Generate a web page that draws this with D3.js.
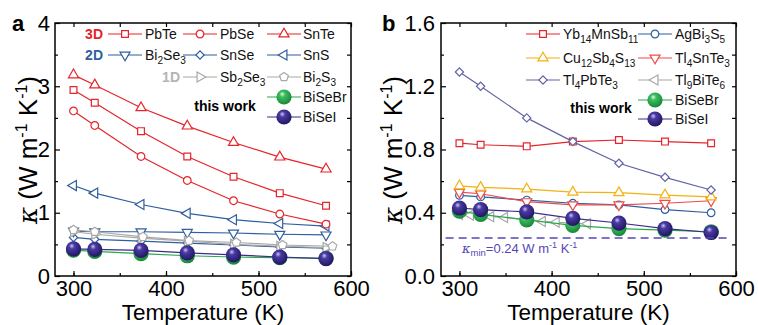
<!DOCTYPE html>
<meta charset="utf-8">
<style>
  body { margin: 0; background: #fff; }
  svg { font-family: "Liberation Sans", Arial, sans-serif; display: block; }
</style>
<svg width="758" height="325"></svg>
<script src="https://d3js.org/d3.v7.min.js"></script>
<script>

  // ---- data ----
  var tempA = [300, 323, 373, 423, 473, 523, 573],
      tempBi2S3 = [300, 323, 375, 425, 476, 526, 580],
      tempTl9 = [300, 312, 334, 349, 375, 390, 405, 424, 439];

  // panel a
  var pbte   = [2.94, 2.74, 2.29, 1.89, 1.57, 1.31, 1.11],
      pbse   = [2.61, 2.38, 1.89, 1.51, 1.19, 0.98, 0.82],
      snte   = [3.18, 3.02, 2.66, 2.37, 2.11, 1.88, 1.69],
      bi2se3 = [0.71, 0.70, 0.70, 0.69, 0.68, 0.66, 0.65],
      snse   = [0.61, 0.58, 0.55, 0.52, 0.49, 0.46, 0.44],
      sns    = [1.43, 1.31, 1.13, 0.99, 0.89, 0.83, 0.79],
      sb2se3 = [0.70, 0.66, 0.60, 0.55, 0.50, 0.47, 0.45],
      bi2s3  = [0.73, 0.70, 0.62, 0.56, 0.53, 0.49, 0.47];

  // this work (both panels)
  var biseBr = [0.41, 0.39, 0.355, 0.32, 0.30, 0.29, 0.28],
      biseI  = [0.43, 0.42, 0.405, 0.365, 0.335, 0.30, 0.275];

  // panel b
  var yb14     = [0.84, 0.83, 0.82, 0.85, 0.86, 0.85, 0.84],
      agbi3s5  = [0.51, 0.50, 0.48, 0.46, 0.45, 0.42, 0.40],
      cu12     = [0.57, 0.56, 0.55, 0.53, 0.527, 0.512, 0.50],
      tl4snte3 = [0.53, 0.52, 0.47, 0.45, 0.45, 0.46, 0.476],
      tl4pbte3 = [1.29, 1.20, 1.00, 0.85, 0.713, 0.624, 0.544],
      tl9bite6 = [0.39, 0.385, 0.375, 0.37, 0.355, 0.345, 0.34, 0.335, 0.33];

  var kMin = 0.24;

  var ticksX = [300, 400, 500, 600], minorX = [300, 350, 400, 450, 500, 550, 600],
      ticksYa = [0, 1, 2, 3, 4], minorYa = [0.5, 1.5, 2.5, 3.5],
      ticksYb = [0, 0.4, 0.8, 1.2, 1.6], minorYb = [0.2, 0.6, 1.0, 1.4];

  var red = "#e5242b", blue = "#2f5f9e", gray = "#a8a8a8", green = "#2aa84a", purple = "#3b2c8c",
      orange = "#f2b20f", salmon = "#ee4b4b", slate = "#6264a6", kColor = "#5646b6";

  var svg = d3.select("svg");

  // sphere gradients
  var defs = svg.append("defs");
  function sphereGrad(id, light, mid, dark) {
    var gr = defs.append("radialGradient").attr("id", id)
        .attr("cx", "0.42").attr("cy", "0.38").attr("r", "0.62").attr("fx", "0.38").attr("fy", "0.3");
    gr.append("stop").attr("offset", "0%").attr("stop-color", light);
    gr.append("stop").attr("offset", "30%").attr("stop-color", mid);
    gr.append("stop").attr("offset", "100%").attr("stop-color", dark);
  }
  sphereGrad("gGreen", "#e6f7e8", "#3cbf5e", "#17873a");
  sphereGrad("gPurple", "#d0c8f0", "#4a3aa4", "#221761");

  // pentagon symbol
  var symbolPentagon = {
    draw: function(ctx, size) {
      var r = Math.sqrt(size / 2.378);
      for (var i = 0; i < 5; i++) {
        var a = -Math.PI / 2 + i * 2 * Math.PI / 5;
        if (i === 0) ctx.moveTo(r * Math.cos(a), r * Math.sin(a));
        else ctx.lineTo(r * Math.cos(a), r * Math.sin(a));
      }
      ctx.closePath();
    }
  };

  var shapes = {
    square:   {type: d3.symbolSquare, size: 46, rot: 0},
    circle:   {type: d3.symbolCircle, size: 46, rot: 0},
    up:       {type: d3.symbolTriangle, size: 44, rot: 0},
    down:     {type: d3.symbolTriangle, size: 44, rot: 180},
    left:     {type: d3.symbolTriangle, size: 44, rot: -90},
    right:    {type: d3.symbolTriangle, size: 44, rot: 90},
    diamond:  {type: d3.symbolSquare, size: 34, rot: 45},
    pentagon: {type: symbolPentagon, size: 50, rot: 0}
  };

  function drawMarker(g, shape, color, cx, cy) {
    if (shape === "sphereG" || shape === "sphereP") {
      g.append("circle").attr("cx", cx).attr("cy", cy).attr("r", 7.6)
        .attr("fill", shape === "sphereG" ? "url(#gGreen)" : "url(#gPurple)");
      return;
    }
    var s = shapes[shape];
    g.append("path")
      .attr("d", d3.symbol(s.type, s.size)())
      .attr("transform", "translate(" + cx + "," + cy + ") rotate(" + s.rot + ")")
      .attr("fill", "#fff")
      .attr("stroke", color)
      .attr("stroke-width", 1.2);
  }

  // text with _nn subscripts
  function richText(sel, str, size) {
    var parts = str.match(/_\d+|[^_]+/g);
    var sub = false;
    parts.forEach(function(p) {
      if (p[0] === "_") {
        sel.append("tspan").attr("font-size", size * 0.72).attr("dy", 4).text(p.slice(1));
        sub = true;
      } else {
        sel.append("tspan").attr("font-size", size).attr("dy", sub ? -4 : 0).text(p);
        sub = false;
      }
    });
  }

  function panel(box, yDomain, ticksY, minorY, fmtY, series) {
    var x = d3.scaleLinear().domain([280, 600]).range([box.x0, box.x1]);
    var y = d3.scaleLinear().domain(yDomain).range([box.y1, box.y0]);
    var g = svg.append("g");

    var line = d3.line().x(function(d) { return x(d[0]); }).y(function(d) { return y(d[1]); });

    series.forEach(function(s) {
      var pts = s.t.map(function(t, i) { return [t, s.v[i]]; });
      var sg = g.append("g");
      sg.append("path").attr("d", line(pts)).attr("fill", "none")
        .attr("stroke", s.color).attr("stroke-width", 1.2);
      pts.forEach(function(p) { drawMarker(sg, s.shape, s.color, x(p[0]), y(p[1])); });
    });

    // axes, ticks inward on all sides
    function style(a) {
      a.select(".domain").remove();
      a.selectAll("line").attr("stroke", "#000").attr("stroke-width", 1.2);
      a.selectAll("text").attr("font-size", 22).attr("fill", "#000")
        .attr("font-family", "Liberation Sans, Arial, sans-serif");
    }
    g.append("g").attr("transform", "translate(0," + box.y1 + ")")
      .call(d3.axisBottom(x).tickValues(ticksX).tickSizeInner(-5).tickSizeOuter(0).tickPadding(4)).call(style);
    g.append("g").attr("transform", "translate(0," + box.y1 + ")")
      .call(d3.axisBottom(x).tickValues(minorX).tickSizeInner(-3).tickSizeOuter(0).tickFormat("")).call(style);
    g.append("g").attr("transform", "translate(0," + box.y0 + ")")
      .call(d3.axisTop(x).tickValues(minorX).tickSizeInner(-4).tickSizeOuter(0).tickFormat("")).call(style);
    g.append("g").attr("transform", "translate(" + box.x0 + ",0)")
      .call(d3.axisLeft(y).tickValues(ticksY).tickSizeInner(-5).tickSizeOuter(0).tickPadding(box.padY).tickFormat(fmtY)).call(style);
    g.append("g").attr("transform", "translate(" + box.x0 + ",0)")
      .call(d3.axisLeft(y).tickValues(minorY).tickSizeInner(-3).tickSizeOuter(0).tickFormat("")).call(style);
    g.append("g").attr("transform", "translate(" + box.x1 + ",0)")
      .call(d3.axisRight(y).tickValues(ticksY.concat(minorY)).tickSizeInner(-4).tickSizeOuter(0).tickFormat("")).call(style);

    g.append("rect").attr("x", box.x0).attr("y", box.y0)
      .attr("width", box.x1 - box.x0).attr("height", box.y1 - box.y0)
      .attr("fill", "none").attr("stroke", "#000").attr("stroke-width", 1.5);

    // axis titles
    g.append("text").attr("x", (box.x0 + box.x1) / 2).attr("y", 319.5)
      .attr("text-anchor", "middle").attr("font-size", 22.5).text("Temperature (K)");
    var yl = g.append("text").attr("transform", "translate(" + box.labX + ",150) rotate(-90)")
      .attr("text-anchor", "middle").attr("font-size", 26);
    yl.append("tspan").attr("font-style", "italic").attr("font-family", "DejaVu Serif, serif").text("\u03ba");
    yl.append("tspan").text(" (W m");
    yl.append("tspan").attr("font-size", 16).attr("dy", -10).text("-1");
    yl.append("tspan").attr("dy", 10).text(" K");
    yl.append("tspan").attr("font-size", 16).attr("dy", -10).text("-1");
    yl.append("tspan").attr("dy", 10).text(")");

    g.append("text").attr("x", box.letterX).attr("y", 31).attr("font-size", 22)
      .attr("font-weight", "bold").text(box.letter);

    return {g: g, x: x, y: y};
  }

  function legendItem(g, s, cx, cy, tx) {
    g.append("line").attr("x1", cx - 17).attr("x2", cx + 17).attr("y1", cy).attr("y2", cy)
      .attr("stroke", s.color).attr("stroke-width", 1.2);
    drawMarker(g, s.shape, s.color, cx, cy);
    var t = g.append("text").attr("x", tx).attr("y", cy + 5).attr("fill", "#111");
    richText(t, s.name, 14);
  }

  // ---- panel a ----
  var sA = {
    snse:   {name: "SnSe", t: tempA, v: snse, color: blue, shape: "diamond"},
    bi2se3: {name: "Bi_2Se_3", t: tempA, v: bi2se3, color: blue, shape: "down"},
    sb2se3: {name: "Sb_2Se_3", t: tempA, v: sb2se3, color: gray, shape: "right"},
    bi2s3:  {name: "Bi_2S_3", t: tempBi2S3, v: bi2s3, color: gray, shape: "pentagon"},
    sns:    {name: "SnS", t: tempA, v: sns, color: blue, shape: "left"},
    pbse:   {name: "PbSe", t: tempA, v: pbse, color: red, shape: "circle"},
    pbte:   {name: "PbTe", t: tempA, v: pbte, color: red, shape: "square"},
    snte:   {name: "SnTe", t: tempA, v: snte, color: red, shape: "up"},
    br:     {name: "BiSeBr", t: tempA, v: biseBr, color: green, shape: "sphereG"},
    i:      {name: "BiSeI", t: tempA, v: biseI, color: purple, shape: "sphereP"}
  };
  var pa = panel({x0: 55, x1: 351, y0: 23, y1: 276, padY: 5, labX: 37, letter: "a", letterX: 12},
    [0, 4], ticksYa, minorYa, d3.format("d"),
    [sA.snse, sA.bi2se3, sA.sb2se3, sA.bi2s3, sA.sns, sA.pbse, sA.pbte, sA.snte, sA.br, sA.i]);

  var la = pa.g.append("g");
  [["3D", red, 34, 103], ["2D", blue, 55, 103], ["1D", "#b4b4b4", 77, 180]].forEach(function(r) {
    la.append("text").attr("x", r[3]).attr("y", r[2] + 5).attr("text-anchor", "end")
      .attr("font-size", 14).attr("font-weight", "bold").attr("fill", r[1]).text(r[0]);
  });
  legendItem(la, sA.pbte, 125, 34, 145);
  legendItem(la, sA.pbse, 200, 34, 220);
  legendItem(la, sA.snte, 284, 34, 303);
  legendItem(la, sA.bi2se3, 125, 55, 145);
  legendItem(la, sA.snse, 200, 55, 220);
  legendItem(la, sA.sns, 284, 55, 303);
  legendItem(la, sA.sb2se3, 200, 77, 220);
  legendItem(la, sA.bi2s3, 284, 77, 303);
  legendItem(la, sA.br, 284, 97, 303);
  legendItem(la, sA.i, 284, 117, 303);
  la.append("text").attr("x", 225).attr("y", 111).attr("text-anchor", "middle")
    .attr("font-size", 14).attr("font-weight", "bold").text("this work");

  // ---- panel b ----
  var sB = {
    tl9:  {name: "Tl_9BiTe_6", t: tempTl9, v: tl9bite6, color: gray, shape: "left"},
    ag:   {name: "AgBi_3S_5", t: tempA, v: agbi3s5, color: blue, shape: "circle"},
    tlsn: {name: "Tl_4SnTe_3", t: tempA, v: tl4snte3, color: salmon, shape: "down"},
    cu:   {name: "Cu_12Sb_4S_13", t: tempA, v: cu12, color: orange, shape: "up"},
    yb:   {name: "Yb_14MnSb_11", t: tempA, v: yb14, color: red, shape: "square"},
    tlpb: {name: "Tl_4PbTe_3", t: tempA, v: tl4pbte3, color: slate, shape: "diamond"},
    br:   {name: "BiSeBr", t: tempA, v: biseBr, color: green, shape: "sphereG"},
    i:    {name: "BiSeI", t: tempA, v: biseI, color: purple, shape: "sphereP"}
  };
  var pb = panel({x0: 441, x1: 736, y0: 23, y1: 276, padY: 6, labX: 402, letter: "b", letterX: 382},
    [0, 1.6], ticksYb, minorYb, d3.format(".1f"),
    [sB.tl9, sB.ag, sB.tlsn, sB.cu, sB.yb, sB.tlpb, sB.br, sB.i]);

  // kappa_min reference line
  pb.g.append("line").attr("x1", pb.x(285)).attr("x2", pb.x(590))
    .attr("y1", pb.y(kMin)).attr("y2", pb.y(kMin))
    .attr("stroke", kColor).attr("stroke-width", 1.6).attr("stroke-dasharray", "8,5");
  var kt = pb.g.append("text").attr("x", 462).attr("y", 253).attr("fill", kColor).attr("font-size", 13);
  kt.append("tspan").attr("font-style", "italic").attr("font-family", "DejaVu Serif, serif").text("\u03ba");
  kt.append("tspan").attr("font-size", 9.5).attr("dy", 3).text("min");
  kt.append("tspan").attr("dy", -3).text("=" + kMin.toFixed(2) + " W m");
  kt.append("tspan").attr("font-size", 9).attr("dy", -5).text("-1");
  kt.append("tspan").attr("dy", 5).text(" K");
  kt.append("tspan").attr("font-size", 9).attr("dy", -5).text("-1");

  var lb = pb.g.append("g");
  legendItem(lb, sB.yb, 543, 34, 563);
  legendItem(lb, sB.ag, 655, 34, 675);
  legendItem(lb, sB.cu, 543, 58, 563);
  legendItem(lb, sB.tlsn, 655, 58, 675);
  legendItem(lb, sB.tlpb, 543, 80, 563);
  legendItem(lb, sB.tl9, 655, 80, 675);
  legendItem(lb, sB.br, 655, 100, 675);
  legendItem(lb, sB.i, 655, 119, 675);
  lb.append("text").attr("x", 601).attr("y", 113).attr("text-anchor", "middle")
    .attr("font-size", 14).attr("font-weight", "bold").text("this work");

</script>
